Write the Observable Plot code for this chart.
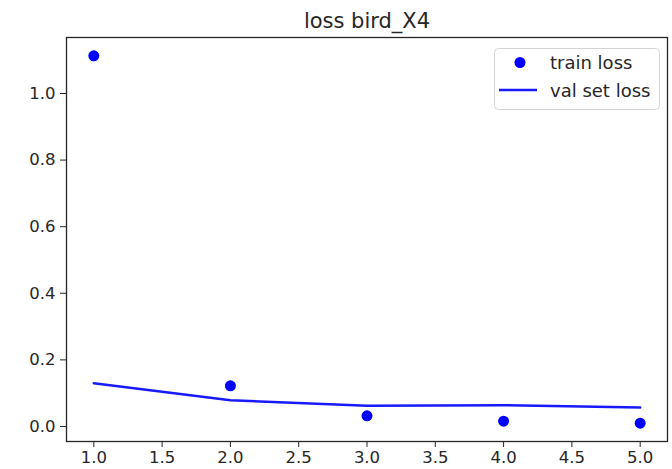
<!DOCTYPE html>
<html><head><meta charset="utf-8">
<script src="https://cdn.jsdelivr.net/npm/d3@7"></script>
<script src="https://cdn.jsdelivr.net/npm/@observablehq/plot@0.6"></script>
<style>
html,body{margin:0;padding:0;background:#fff;}
#chart{position:relative;width:672px;height:469px;font-family:"DejaVu Sans",sans-serif;}
#chart svg{display:block;}
#legend{position:absolute;left:494px;top:48px;}
</style></head><body>
<div id="chart"></div>
<script>
const epochs = [1, 2, 3, 4, 5];
const trainLoss = [1.113, 0.122, 0.032, 0.016, 0.010];
const valLoss = [0.130, 0.079, 0.062, 0.064, 0.057];
const xTicks = [1, 1.5, 2, 2.5, 3, 3.5, 4, 4.5, 5];
const yTicks = [0, 0.2, 0.4, 0.6, 0.8, 1.0];
const title = "loss bird_X4";
const seriesNames = ["train loss", "val set loss"];

const ink = "#262626";
const blue = "#0000ff";

// autoscale with a 5% margin on each side
function padded(values) {
  const lo = d3.min(values), hi = d3.max(values), p = (hi - lo) * 0.05;
  return [lo - p, hi + p];
}

const train = epochs.map((e, i) => ({epoch: e, loss: trainLoss[i]}));
const val = epochs.map((e, i) => ({epoch: e, loss: valLoss[i]}));

const chart = Plot.plot({
  width: 672,
  height: 469,
  marginLeft: 66,
  marginRight: 5,
  marginTop: 37,
  marginBottom: 28,
  style: {fontFamily: "DejaVu Sans", fontSize: "16.5px", color: ink, background: "white"},
  x: {domain: padded(epochs)},
  y: {domain: padded(trainLoss.concat(valLoss))},
  marks: [
    Plot.axisX({ticks: xTicks, tickFormat: d3.format(".1f"), tickSize: 6, tickPadding: 4, fontSize: 16.5, label: null}),
    Plot.axisY({ticks: yTicks, tickFormat: d3.format(".1f"), tickSize: 6, tickPadding: 5, fontSize: 16.5, label: null}),
    Plot.dot(train, {x: "epoch", y: "loss", r: 5.5, fill: blue, stroke: "none"}),
    Plot.line(val, {x: "epoch", y: "loss", stroke: blue, strokeWidth: 2.5, strokeOpacity: 0.9}),
    Plot.frame({stroke: ink, strokeWidth: 1.3}),
    Plot.text([title], {text: d => d, frameAnchor: "top", lineAnchor: "bottom", dy: -10, fontSize: 21, fill: ink})
  ]
});

const root = document.getElementById("chart");
root.appendChild(chart);

// legend box in the upper right corner of the axes
const legend = d3.select(root).append("svg")
  .attr("id", "legend")
  .attr("width", 166)
  .attr("height", 62)
  .style("font-family", "DejaVu Sans");
legend.append("rect")
  .attr("x", 0.5).attr("y", 0.5).attr("width", 165).attr("height", 61)
  .attr("rx", 4)
  .attr("fill", "white").attr("fill-opacity", 0.8)
  .attr("stroke", "#d4d4d4");
legend.append("circle")
  .attr("cx", 26).attr("cy", 14.5).attr("r", 5.5).attr("fill", blue);
legend.append("line")
  .attr("x1", 5).attr("x2", 43).attr("y1", 42).attr("y2", 42)
  .attr("stroke", blue).attr("stroke-width", 2.5).attr("stroke-opacity", 0.9);
legend.selectAll("text.name")
  .data(seriesNames)
  .join("text")
  .attr("class", "name")
  .attr("x", 56)
  .attr("y", (d, i) => 20.5 + i * 28)
  .attr("font-size", 18)
  .attr("fill", ink)
  .text(d => d);
</script>
</body></html>
